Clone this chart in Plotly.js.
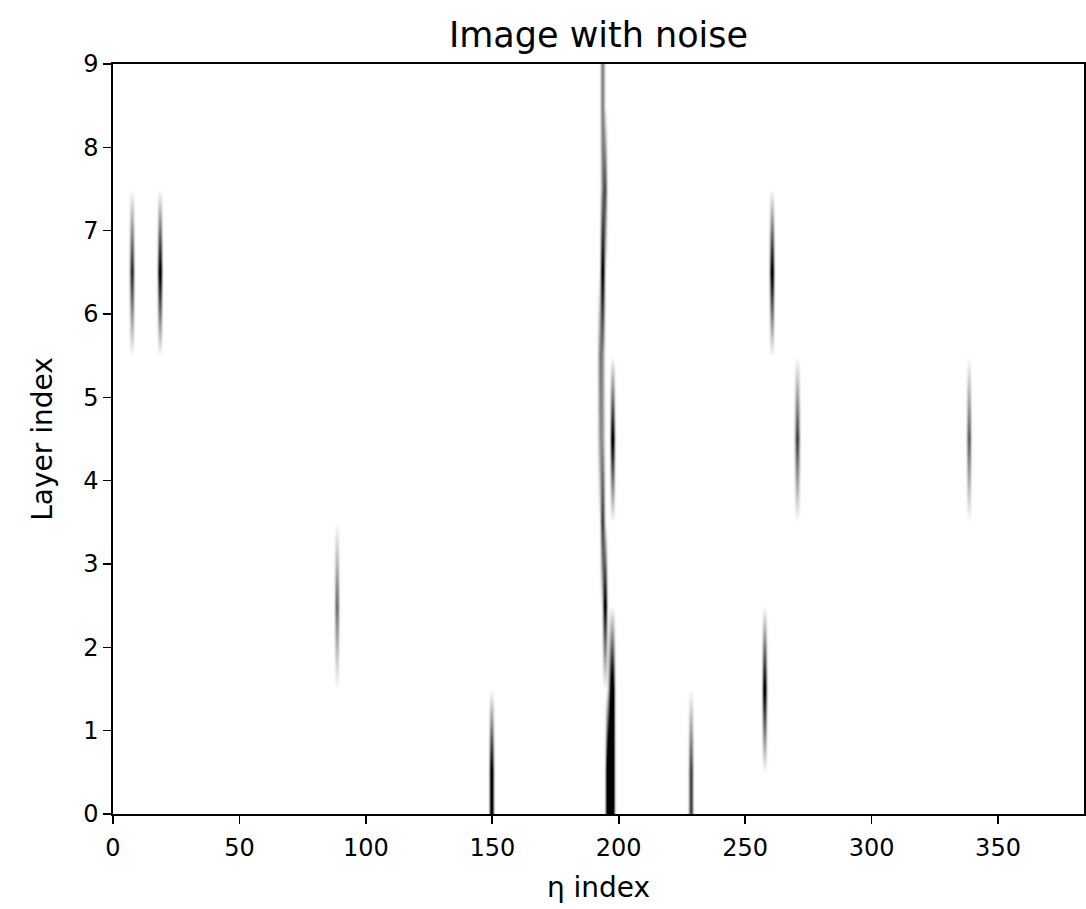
<!DOCTYPE html>
<html>
<head>
<meta charset="utf-8">
<script src="https://cdn.plot.ly/plotly-3.0.1.min.js"></script>
<style>
  html, body { margin: 0; padding: 0; background: #ffffff; }
  #chart { width: 1086px; height: 909px; }
</style>
</head>
<body>
<svg width="0" height="0" style="position:absolute">
  <defs>
    <filter id="softblur" x="-2%" y="-2%" width="104%" height="104%" color-interpolation-filters="sRGB">
      <feGaussianBlur stdDeviation="1.2 0.4" result="b"/>
      <feComponentTransfer in="b">
        <feFuncR type="linear" slope="1.6" intercept="-0.6"/>
        <feFuncG type="linear" slope="1.6" intercept="-0.6"/>
        <feFuncB type="linear" slope="1.6" intercept="-0.6"/>
      </feComponentTransfer>
    </filter>
  </defs>
</svg>
<div id="chart"></div>
<script>
// Image size: 384 eta columns x 9 layers
const nCols = 384;
const nRows = 9;

// Non-zero pixels of the image (column index, layer index, intensity)
const spotCols = [7, 18, 88, 149, 193, 193, 194, 193, 192, 193, 192, 193, 197, 193, 194, 197, 196, 195, 196, 197, 228, 257, 260, 270, 338];
const spotRows = [6, 6, 2, 0, 8, 7, 7, 6, 5, 5, 4, 4, 4, 3, 2, 1, 1, 0, 0, 0, 0, 1, 6, 4, 4];
const spotVals = [0.8, 1.0, 0.55, 1.0, 0.45, 0.3, 0.55, 0.95, 0.4, 0.3, 0.3, 0.3, 1.0, 0.7, 0.95, 1.0, 0.5, 0.9, 1.0, 1.0, 0.7, 1.0, 1.0, 0.65, 0.6];

const xTicks = [0, 50, 100, 150, 200, 250, 300, 350];
const yTicks = [0, 1, 2, 3, 4, 5, 6, 7, 8, 9];

// Build the image matrix from the spot table
const xCenters = [];
for (let i = 0; i < nCols; i++) xCenters.push(i + 0.5);
const yCenters = [];
for (let j = 0; j < nRows; j++) yCenters.push(j + 0.5);
const z = [];
for (let j = 0; j < nRows; j++) {
  z.push(new Array(nCols).fill(0));
}
for (let k = 0; k < spotCols.length; k++) {
  z[spotRows[k]][spotCols[k]] = spotVals[k];
}

const FONT = 'DejaVu Sans, sans-serif';

const trace = {
  type: 'heatmap',
  x: xCenters,
  y: yCenters,
  z: z,
  zmin: 0,
  zmax: 1,
  zsmooth: 'best',
  colorscale: [[0, 'rgb(255,255,255)'], [1, 'rgb(0,0,0)']],
  showscale: false,
  hoverinfo: 'skip'
};

const axisCommon = {
  showgrid: false,
  zeroline: false,
  showline: true,
  mirror: true,
  linecolor: '#000000',
  linewidth: 1.6,
  ticks: 'outside',
  ticklen: 8,
  tickwidth: 1.6,
  tickcolor: '#000000',
  tickfont: { family: FONT, size: 24, color: '#000000' },
  automargin: false
};

const layout = {
  width: 1086,
  height: 909,
  margin: { l: 113, r: 2, t: 64, b: 95, pad: 0 },
  paper_bgcolor: '#ffffff',
  plot_bgcolor: '#ffffff',
  font: { family: FONT, color: '#000000' },
  title: {
    text: 'Image with noise',
    font: { family: FONT, size: 35, color: '#000000' },
    x: 0.5, xref: 'paper', xanchor: 'center',
    y: 1 - 35 / 909, yref: 'container', yanchor: 'middle'
  },
  xaxis: Object.assign({}, axisCommon, {
    range: [0, nCols],
    tickmode: 'array',
    tickvals: xTicks,
    ticktext: xTicks.map(String),
    ticklabelstandoff: 4,
    title: { text: 'η index', font: { family: FONT, size: 28, color: '#000000' }, standoff: 16 }
  }),
  yaxis: Object.assign({}, axisCommon, {
    range: [0, nRows],
    tickmode: 'array',
    tickvals: yTicks,
    ticktext: yTicks.map(String),
    title: { text: 'Layer index', font: { family: FONT, size: 28, color: '#000000' }, standoff: 22 }
  }),
  showlegend: false
};

Plotly.newPlot('chart', [trace], layout, { displayModeBar: false, staticPlot: true }).then(function (gd) {
  const imgs = gd.querySelectorAll('.hm image');
  imgs.forEach(function (im) { im.setAttribute('filter', 'url(#softblur)'); });
});
</script>
</body>
</html>
